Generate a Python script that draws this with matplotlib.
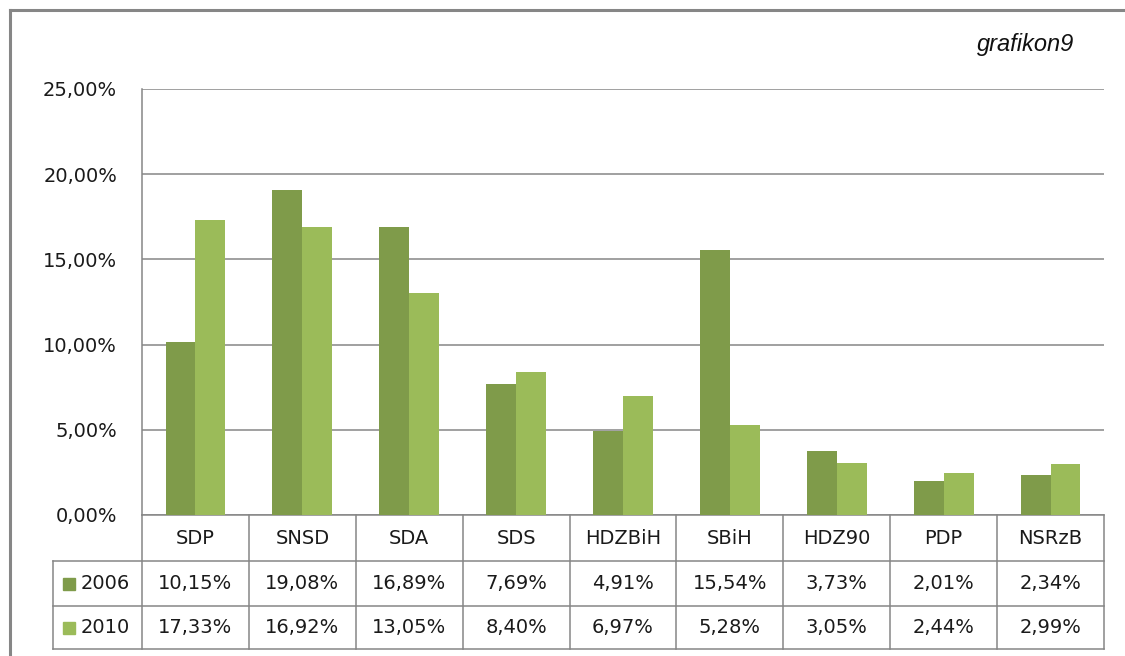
import matplotlib
matplotlib.use("Agg")
import matplotlib.pyplot as plt
from matplotlib.lines import Line2D
from matplotlib.patches import Rectangle
import matplotlib.transforms as mtrans

parties = ["SDP", "SNSD", "SDA", "SDS", "HDZBiH", "SBiH", "HDZ90", "PDP", "NSRzB"]
years = ["2006", "2010"]
v2006 = [10.15, 19.08, 16.89, 7.69, 4.91, 15.54, 3.73, 2.01, 2.34]
v2010 = [17.33, 16.92, 13.05, 8.40, 6.97, 5.28, 3.05, 2.44, 2.99]
yticks = [0, 5, 10, 15, 20, 25]
colors = ["#7f9b4a", "#9bbb59"]
grid_c = "#868686"

plt.rcParams['font.family'] = ['DejaVu Sans']
FS = 14

W, H = 1125, 656
fig = plt.figure(figsize=(W / 100, H / 100), dpi=100)
fig.patch.set_facecolor("white")

def px(x, y):
    return x / W, 1 - y / H

# plot area in pixels
L, R, T, B = 142, 1104, 89, 515
ax = fig.add_axes([L / W, 1 - B / H, (R - L) / W, (B - T) / H])

def pct(v):
    return ("%.2f%%" % v).replace(".", ",")

n = len(parties)
bw = 0.28
xs = list(range(n))
ax.bar([x - bw / 2 for x in xs], v2006, width=bw, color=colors[0], zorder=3)
ax.bar([x + bw / 2 for x in xs], v2010, width=bw, color=colors[1], zorder=3)

ax.set_xlim(-0.5, n - 0.5)
ax.set_ylim(0, 25)
ax.set_yticks(yticks)
ax.set_yticklabels([pct(t) for t in yticks], fontsize=FS, color="#1a1a1a")
ax.tick_params(axis="y", length=0, pad=18)
ax.set_xticks([])
for t in yticks:
    ax.axhline(t, color=grid_c, lw=1.1, zorder=1)
for s in ["top", "right", "bottom"]:
    ax.spines[s].set_visible(False)
ax.spines["left"].set_color(grid_c)
ax.spines["left"].set_linewidth(1.1)

# data table under the plot
tr = mtrans.blended_transform_factory(ax.transData, ax.transAxes)
tra = ax.transAxes
rows_y = [0, -(561 - B) / (B - T), -(606 - B) / (B - T), -(649 - B) / (B - T)]
leg_x = (53 - L) / (R - L)
lk = dict(color=grid_c, lw=1.1, clip_on=False)

# horizontal lines
ax.add_line(Line2D([0, 1], [rows_y[0]] * 2, transform=tra, **lk))
for ry in rows_y[1:]:
    ax.add_line(Line2D([leg_x, 1], [ry] * 2, transform=tra, **lk))
# vertical lines
for i in range(n + 1):
    ax.add_line(Line2D([i - 0.5] * 2, [rows_y[0], rows_y[3]], transform=tr, **lk))
ax.add_line(Line2D([leg_x] * 2, [rows_y[1], rows_y[3]], transform=tra, **lk))

# header and values
for i, p in enumerate(parties):
    ax.text(i, (rows_y[0] + rows_y[1]) / 2, p, transform=tr, ha="center",
            va="center", fontsize=FS, color="#1a1a1a")
    for r, vals in enumerate([v2006, v2010]):
        ax.text(i, (rows_y[r + 1] + rows_y[r + 2]) / 2, pct(vals[i]), transform=tr,
                ha="center", va="center", fontsize=FS, color="#1a1a1a")

# legend keys in the table
for r, y in enumerate(years):
    cy = (rows_y[r + 1] + rows_y[r + 2]) / 2
    sq = 12 / (B - T)
    kx = (63 - L) / (R - L)
    ax.add_patch(Rectangle((kx, cy - sq / 2), 12 / (R - L), sq, transform=tra,
                           color=colors[r], clip_on=False))
    ax.text((81 - L) / (R - L), cy, y, transform=tra, ha="left", va="center",
            fontsize=FS, color="#1a1a1a")

# outer frame (left and top only, rest is cut off)
fig.add_artist(Line2D([9.5 / W, 9.5 / W], [0, 1 - 9.5 / H], transform=fig.transFigure,
                      color=grid_c, lw=2.2))
fig.add_artist(Line2D([9.5 / W, 1], [1 - 9.5 / H] * 2, transform=fig.transFigure,
                      color=grid_c, lw=2.2))

fig.text(*px(1074, 44), "grafikon9", ha="right", va="center", fontsize=17,
         style="italic", family="Liberation Sans", color="#111111")

fig.savefig("out.png", dpi=100, facecolor="white")
